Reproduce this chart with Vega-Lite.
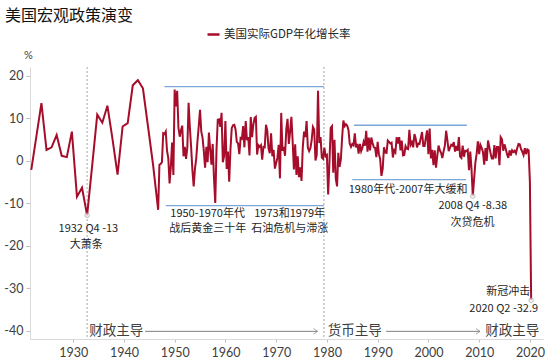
{
  "$schema": "https://vega.github.io/schema/vega-lite/v6.json",
  "width": 513,
  "height": 272,
  "autosize": "none",
  "padding": {"left": 30, "top": 67, "right": 7, "bottom": 20},
  "background": "white",
  "title": {"text": "美国宏观政策演变", "anchor": "start", "frame": "group", "dx": -25, "offset": 3, "fontSize": 16, "fontWeight": "normal", "font": "Noto Sans CJK SC", "color": "#111111"},
  "config": {"view": {"stroke": null}, "font": "Lato"},
  "datasets": {
    "gdp": [
      {"d":"1921-10","v":-2.2},{"d":"1922-10","v":5.6},{"d":"1923-10","v":13.5},{"d":"1924-10","v":2.5},{"d":"1925-10","v":3.1},{"d":"1926-10","v":6.0},{"d":"1927-10","v":1.1},{"d":"1928-10","v":0.8},{"d":"1929-10","v":6.8},{"d":"1930-10","v":-8.5},{"d":"1931-10","v":-6.4},{"d":"1932-10","v":-12.9},{"d":"1933-10","v":-1.2},{"d":"1934-10","v":10.8},{"d":"1935-10","v":8.9},{"d":"1936-10","v":12.9},{"d":"1937-10","v":5.1},{"d":"1938-10","v":-3.3},{"d":"1939-10","v":8.0},{"d":"1940-10","v":8.8},{"d":"1941-10","v":17.7},{"d":"1942-10","v":18.9},{"d":"1943-10","v":17.0},{"d":"1944-10","v":8.0},{"d":"1945-10","v":-1.0},{"d":"1946-10","v":-11.6},
      {"d":"1947-01","v":-1.0},{"d":"1947-04","v":-0.8},{"d":"1947-07","v":-0.4},{"d":"1947-10","v":6.4},
      {"d":"1948-01","v":6.2},{"d":"1948-04","v":6.8},{"d":"1948-07","v":2.3},{"d":"1948-10","v":0.5},
      {"d":"1949-01","v":-5.4},{"d":"1949-04","v":-1.4},{"d":"1949-07","v":4.2},{"d":"1949-10","v":-3.4},
      {"d":"1950-01","v":16.7},{"d":"1950-04","v":12.7},{"d":"1950-07","v":16.4},{"d":"1950-10","v":7.7},
      {"d":"1951-01","v":5.6},{"d":"1951-04","v":7.1},{"d":"1951-07","v":8.2},{"d":"1951-10","v":1.0},
      {"d":"1952-01","v":3.2},{"d":"1952-04","v":0.4},{"d":"1952-07","v":3.1},{"d":"1952-10","v":13.6},
      {"d":"1953-01","v":7.7},{"d":"1953-04","v":3.1},{"d":"1953-07","v":-2.2},{"d":"1953-10","v":-6.1},
      {"d":"1954-01","v":-1.9},{"d":"1954-04","v":0.4},{"d":"1954-07","v":4.6},{"d":"1954-10","v":8.1},
      {"d":"1955-01","v":11.9},{"d":"1955-04","v":6.8},{"d":"1955-07","v":5.4},{"d":"1955-10","v":2.2},
      {"d":"1956-01","v":-1.7},{"d":"1956-04","v":3.2},{"d":"1956-07","v":-0.4},{"d":"1956-10","v":6.6},
      {"d":"1957-01","v":2.6},{"d":"1957-04","v":-1.0},{"d":"1957-07","v":3.9},{"d":"1957-10","v":-4.1},
      {"d":"1958-01","v":-10.0},{"d":"1958-04","v":2.6},{"d":"1958-07","v":9.6},{"d":"1958-10","v":9.7},
      {"d":"1959-01","v":7.9},{"d":"1959-04","v":11.2},{"d":"1959-07","v":-0.4},{"d":"1959-10","v":1.1},
      {"d":"1960-01","v":9.3},{"d":"1960-04","v":-2.0},{"d":"1960-07","v":2.1},{"d":"1960-10","v":-5.0},
      {"d":"1961-01","v":2.7},{"d":"1961-04","v":7.6},{"d":"1961-07","v":8.3},{"d":"1961-10","v":8.4},
      {"d":"1962-01","v":7.3},{"d":"1962-04","v":4.4},{"d":"1962-07","v":4.0},{"d":"1962-10","v":1.5},
      {"d":"1963-01","v":5.3},{"d":"1963-04","v":5.1},{"d":"1963-07","v":8.1},{"d":"1963-10","v":3.1},
      {"d":"1964-01","v":9.3},{"d":"1964-04","v":4.8},{"d":"1964-07","v":5.5},{"d":"1964-10","v":1.2},
      {"d":"1965-01","v":10.2},{"d":"1965-04","v":5.5},{"d":"1965-07","v":8.4},{"d":"1965-10","v":10.0},
      {"d":"1966-01","v":10.3},{"d":"1966-04","v":1.4},{"d":"1966-07","v":3.6},{"d":"1966-10","v":3.2},
      {"d":"1967-01","v":3.6},{"d":"1967-04","v":0.2},{"d":"1967-07","v":3.2},{"d":"1967-10","v":3.1},
      {"d":"1968-01","v":8.4},{"d":"1968-04","v":7.0},{"d":"1968-07","v":2.8},{"d":"1968-10","v":1.7},
      {"d":"1969-01","v":6.4},{"d":"1969-04","v":1.0},{"d":"1969-07","v":2.5},{"d":"1969-10","v":-1.9},
      {"d":"1970-01","v":-0.6},{"d":"1970-04","v":0.6},{"d":"1970-07","v":3.7},{"d":"1970-10","v":-4.2},
      {"d":"1971-01","v":11.2},{"d":"1971-04","v":2.3},{"d":"1971-07","v":3.2},{"d":"1971-10","v":1.1},
      {"d":"1972-01","v":7.4},{"d":"1972-04","v":9.8},{"d":"1972-07","v":3.9},{"d":"1972-10","v":6.8},
      {"d":"1973-01","v":10.3},{"d":"1973-04","v":4.6},{"d":"1973-07","v":-2.1},{"d":"1973-10","v":3.8},
      {"d":"1974-01","v":-3.4},{"d":"1974-04","v":1.0},{"d":"1974-07","v":-3.9},{"d":"1974-10","v":-1.6},
      {"d":"1975-01","v":-4.8},{"d":"1975-04","v":3.1},{"d":"1975-07","v":6.8},{"d":"1975-10","v":5.5},
      {"d":"1976-01","v":9.3},{"d":"1976-04","v":3.0},{"d":"1976-07","v":2.2},{"d":"1976-10","v":2.9},
      {"d":"1977-01","v":4.8},{"d":"1977-04","v":7.9},{"d":"1977-07","v":7.3},{"d":"1977-10","v":0.0},
      {"d":"1978-01","v":1.3},{"d":"1978-04","v":16.4},{"d":"1978-07","v":4.1},{"d":"1978-10","v":5.5},
      {"d":"1979-01","v":0.7},{"d":"1979-04","v":0.4},{"d":"1979-07","v":3.0},{"d":"1979-10","v":1.0},
      {"d":"1980-01","v":1.3},{"d":"1980-04","v":-8.0},{"d":"1980-07","v":-0.5},{"d":"1980-10","v":7.7},
      {"d":"1981-01","v":8.1},{"d":"1981-04","v":-2.9},{"d":"1981-07","v":4.9},{"d":"1981-10","v":-4.3},
      {"d":"1982-01","v":-6.1},{"d":"1982-04","v":1.8},{"d":"1982-07","v":-1.5},{"d":"1982-10","v":0.2},
      {"d":"1983-01","v":5.4},{"d":"1983-04","v":9.4},{"d":"1983-07","v":8.1},{"d":"1983-10","v":8.5},
      {"d":"1984-01","v":8.2},{"d":"1984-04","v":7.2},{"d":"1984-07","v":4.0},{"d":"1984-10","v":3.2},
      {"d":"1985-01","v":3.9},{"d":"1985-04","v":3.6},{"d":"1985-07","v":6.4},{"d":"1985-10","v":3.1},
      {"d":"1986-01","v":3.9},{"d":"1986-04","v":1.6},{"d":"1986-07","v":3.9},{"d":"1986-10","v":2.2},
      {"d":"1987-01","v":3.0},{"d":"1987-04","v":4.4},{"d":"1987-07","v":3.5},{"d":"1987-10","v":7.0},
      {"d":"1988-01","v":2.1},{"d":"1988-04","v":5.4},{"d":"1988-07","v":2.4},{"d":"1988-10","v":5.4},
      {"d":"1989-01","v":4.1},{"d":"1989-04","v":3.1},{"d":"1989-07","v":3.0},{"d":"1989-10","v":0.8},
      {"d":"1990-01","v":4.4},{"d":"1990-04","v":1.5},{"d":"1990-07","v":0.3},{"d":"1990-10","v":-3.6},
      {"d":"1991-01","v":-1.9},{"d":"1991-04","v":3.1},{"d":"1991-07","v":1.9},{"d":"1991-10","v":1.8},
      {"d":"1992-01","v":4.7},{"d":"1992-04","v":4.4},{"d":"1992-07","v":4.0},{"d":"1992-10","v":4.2},
      {"d":"1993-01","v":0.7},{"d":"1993-04","v":2.4},{"d":"1993-07","v":1.9},{"d":"1993-10","v":5.5},
      {"d":"1994-01","v":4.0},{"d":"1994-04","v":5.5},{"d":"1994-07","v":2.4},{"d":"1994-10","v":4.7},
      {"d":"1995-01","v":1.2},{"d":"1995-04","v":1.3},{"d":"1995-07","v":3.4},{"d":"1995-10","v":2.8},
      {"d":"1996-01","v":2.7},{"d":"1996-04","v":7.2},{"d":"1996-07","v":3.7},{"d":"1996-10","v":4.3},
      {"d":"1997-01","v":3.1},{"d":"1997-04","v":6.2},{"d":"1997-07","v":5.2},{"d":"1997-10","v":3.1},
      {"d":"1998-01","v":4.0},{"d":"1998-04","v":3.9},{"d":"1998-07","v":5.3},{"d":"1998-10","v":6.7},
      {"d":"1999-01","v":3.4},{"d":"1999-04","v":3.4},{"d":"1999-07","v":5.4},{"d":"1999-10","v":7.1},
      {"d":"2000-01","v":1.5},{"d":"2000-04","v":7.5},{"d":"2000-07","v":0.5},{"d":"2000-10","v":2.5},
      {"d":"2001-01","v":-1.1},{"d":"2001-04","v":2.4},{"d":"2001-07","v":-1.7},{"d":"2001-10","v":1.1},
      {"d":"2002-01","v":3.5},{"d":"2002-04","v":2.4},{"d":"2002-07","v":1.8},{"d":"2002-10","v":0.6},
      {"d":"2003-01","v":2.2},{"d":"2003-04","v":3.5},{"d":"2003-07","v":7.0},{"d":"2003-10","v":4.7},
      {"d":"2004-01","v":2.2},{"d":"2004-04","v":3.0},{"d":"2004-07","v":3.7},{"d":"2004-10","v":3.5},
      {"d":"2005-01","v":4.3},{"d":"2005-04","v":2.1},{"d":"2005-07","v":3.4},{"d":"2005-10","v":2.3},
      {"d":"2006-01","v":5.5},{"d":"2006-04","v":0.9},{"d":"2006-07","v":0.6},{"d":"2006-10","v":3.5},
      {"d":"2007-01","v":0.9},{"d":"2007-04","v":2.3},{"d":"2007-07","v":2.2},{"d":"2007-10","v":2.5},
      {"d":"2008-01","v":-2.3},{"d":"2008-04","v":2.1},{"d":"2008-07","v":-2.1},{"d":"2008-10","v":-8.4},
      {"d":"2009-01","v":-4.4},{"d":"2009-04","v":-0.6},{"d":"2009-07","v":1.5},{"d":"2009-10","v":4.5},
      {"d":"2010-01","v":1.5},{"d":"2010-04","v":3.7},{"d":"2010-07","v":3.0},{"d":"2010-10","v":2.0},
      {"d":"2011-01","v":-1.0},{"d":"2011-04","v":2.9},{"d":"2011-07","v":-0.1},{"d":"2011-10","v":4.7},
      {"d":"2012-01","v":3.2},{"d":"2012-04","v":1.7},{"d":"2012-07","v":0.5},{"d":"2012-10","v":0.5},
      {"d":"2013-01","v":3.6},{"d":"2013-04","v":0.5},{"d":"2013-07","v":3.2},{"d":"2013-10","v":3.2},
      {"d":"2014-01","v":-1.1},{"d":"2014-04","v":5.5},{"d":"2014-07","v":5.0},{"d":"2014-10","v":2.3},
      {"d":"2015-01","v":3.8},{"d":"2015-04","v":2.7},{"d":"2015-07","v":1.5},{"d":"2015-10","v":0.6},
      {"d":"2016-01","v":2.4},{"d":"2016-04","v":1.2},{"d":"2016-07","v":2.4},{"d":"2016-10","v":2.0},
      {"d":"2017-01","v":2.3},{"d":"2017-04","v":1.7},{"d":"2017-07","v":2.9},{"d":"2017-10","v":3.9},
      {"d":"2018-01","v":3.8},{"d":"2018-04","v":2.7},{"d":"2018-07","v":2.1},{"d":"2018-10","v":1.3},
      {"d":"2019-01","v":2.9},{"d":"2019-04","v":1.5},{"d":"2019-07","v":2.6},{"d":"2019-10","v":2.4},
      {"d":"2020-01","v":-5.0},{"d":"2020-04","v":-32.9}
    ],
    "bands": [
      {"d":"1948-01","d2":"1979-06","v":17.4},
      {"d":"1948-04","d2":"1979-06","v":-10.6},
      {"d":"1985-05","d2":"2007-08","v":8.3},
      {"d":"1985-01","d2":"2007-06","v":-4.5}
    ],
    "vlines": [{"d":"1932-10"},{"d":"1979-06"}],
    "marks": [{"d":"1932-10","v":-12.9},{"d":"2008-10","v":-8.38},{"d":"2020-04","v":-32.9}],
    "notes": [
      {"d":"1933-01","v":-16.1,"t":"1932 Q4 -13"},
      {"d":"1932-08","v":-19.9,"t":"大萧条"},
      {"d":"1956-07","v":-12.5,"t":"1950-1970年代"},
      {"d":"1956-07","v":-16.0,"t":"战后黄金三十年"},
      {"d":"1972-09","v":-12.5,"t":"1973和1979年"},
      {"d":"1972-09","v":-16.0,"t":"石油危机与滞涨"},
      {"d":"1996-01","v":-6.9,"t":"1980年代-2007年大缓和"},
      {"d":"2008-10","v":-10.8,"t":"2008 Q4 -8.38"},
      {"d":"2008-09","v":-14.6,"t":"次贷危机"},
      {"d":"2015-10","v":-31.0,"t":"新冠冲击"},
      {"d":"2014-11","v":-34.9,"t":"2020 Q2 -32.9"}
    ],
    "regimes": [
      {"d":"1938-07","v":-40.2,"t":"财政主导"},
      {"d":"1985-07","v":-40.2,"t":"货币主导"},
      {"d":"2016-07","v":-40.2,"t":"财政主导"}
    ],
    "arrows": [
      {"d":"1944-03","d2":"1978-03","v":-40.2},
      {"d":"1991-09","d2":"2010-03","v":-40.2}
    ]
  },
  "layer": [
    {
      "data": {"name": "bands"},
      "mark": {"type": "rule", "color": "#7ba7d6", "strokeWidth": 1.3},
      "encoding": {
        "x": {"field": "d", "type": "temporal"},
        "x2": {"field": "d2"},
        "y": {"field": "v", "type": "quantitative"}
      }
    },
    {
      "data": {"name": "vlines"},
      "mark": {"type": "rule", "color": "#a6a6a6", "strokeWidth": 1, "strokeDash": [2, 2]},
      "encoding": {"x": {"field": "d", "type": "temporal"}}
    },
    {
      "data": {"name": "gdp"},
      "mark": {"type": "line", "strokeWidth": 2, "interpolate": "linear"},
      "encoding": {
        "x": {
          "field": "d", "type": "temporal",
          "scale": {"domain": ["1921-07-01", "2022-08-01"]},
          "axis": {
            "title": null, "format": "%Y", "grid": false,
            "values": ["1930-01-01","1940-01-01","1950-01-01","1960-01-01","1970-01-01","1980-01-01","1990-01-01","2000-01-01","2010-01-01","2020-01-01"],
            "domainColor": "#d9d9d9", "tickColor": "#bfbfbf", "tickSize": 3,
            "labelFontSize": 12.5, "labelColor": "#404040", "labelPadding": 4, "labelFont": "Lato"
          }
        },
        "y": {
          "field": "v", "type": "quantitative",
          "scale": {"domain": [-42, 22], "nice": false, "zero": false},
          "axis": {
            "title": "%", "titleAngle": 0, "titleX": -2, "titleY": -12, "titleAlign": "center", "titleBaseline": "middle",
            "titleFontSize": 11, "titleFontWeight": "normal", "titleColor": "#404040",
            "values": [-40, -30, -20, -10, 0, 10, 20], "grid": false,
            "labelExpr": "'' + datum.value",
            "domainColor": "#d9d9d9", "tickColor": "#bfbfbf", "tickSize": 4,
            "labelFontSize": 12.5, "labelColor": "#404040", "labelPadding": 3, "labelFont": "Lato"
          }
        },
        "color": {
          "datum": "美国实际GDP年化增长率",
          "scale": {"range": ["#a50d2b"]},
          "legend": {
            "title": null, "orient": "none", "legendX": 176, "legendY": -40,
            "symbolType": "stroke", "symbolSize": 144, "symbolStrokeWidth": 2.5,
            "labelFontSize": 11.5, "labelColor": "#262626", "labelFont": "Noto Sans CJK SC", "labelOffset": 3, "padding": 0
          }
        }
      }
    },
    {
      "data": {"name": "marks"},
      "mark": {"type": "point", "shape": "circle", "filled": true, "fill": "white", "stroke": "#a0a0a0", "strokeWidth": 1, "size": 20},
      "encoding": {
        "x": {"field": "d", "type": "temporal"},
        "y": {"field": "v", "type": "quantitative"}
      }
    },
    {
      "data": {"name": "notes"},
      "mark": {"type": "text", "font": "Noto Sans CJK SC", "fontSize": 11, "color": "#262626", "baseline": "middle", "align": "center"},
      "encoding": {
        "x": {"field": "d", "type": "temporal"},
        "y": {"field": "v", "type": "quantitative"},
        "text": {"field": "t"}
      }
    },
    {
      "data": {"name": "arrows"},
      "mark": {"type": "rule", "color": "#808080", "strokeWidth": 1},
      "encoding": {
        "x": {"field": "d", "type": "temporal"},
        "x2": {"field": "d2"},
        "y": {"field": "v", "type": "quantitative"}
      }
    },
    {
      "data": {"name": "arrows"},
      "mark": {"type": "point", "shape": "M-1,-0.7L0,0L-1,0.7", "filled": false, "stroke": "#808080", "strokeWidth": 1, "size": 64},
      "encoding": {
        "x": {"field": "d2", "type": "temporal"},
        "y": {"field": "v", "type": "quantitative"}
      }
    },
    {
      "data": {"name": "regimes"},
      "mark": {"type": "text", "font": "Noto Sans CJK SC", "fontSize": 13.5, "color": "#404040", "baseline": "middle", "align": "center"},
      "encoding": {
        "x": {"field": "d", "type": "temporal"},
        "y": {"field": "v", "type": "quantitative"},
        "text": {"field": "t"}
      }
    }
  ]
}
